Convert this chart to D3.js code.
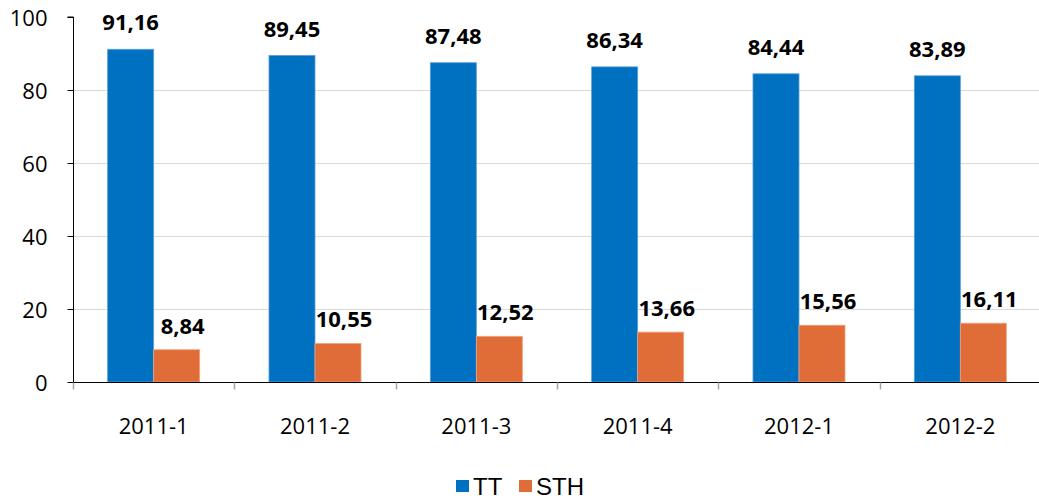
<!DOCTYPE html>
<html>
<head>
<meta charset="utf-8">
<script src="https://cdn.jsdelivr.net/npm/d3@7"></script>
<style>
  body { margin: 0; background: #fff; }
  svg { display: block; }
</style>
</head>
<body>
<svg id="chart"></svg>
<script>
var categories = ["2011-1", "2011-2", "2011-3", "2011-4", "2012-1", "2012-2"];
var series = ["TT", "STH"];
var ttValues = [91.16, 89.45, 87.48, 86.34, 84.44, 83.89];
var sthValues = [8.84, 10.55, 12.52, 13.66, 15.56, 16.11];
var yTicks = [0, 20, 40, 60, 80, 100];

var colors = {TT: "#0070c0", STH: "#e06c37"};
var W = 1039, H = 503;
var margin = {top: 17, right: -2, bottom: 121, left: 73};
var height = H - margin.top - margin.bottom;
var font = "'Open Sans', Lato, sans-serif";

var svg = d3.select("#chart").attr("width", W).attr("height", H);

var data = categories.map(function(c, i) {
  return {cat: c, TT: ttValues[i], STH: sthValues[i]};
});

var x0 = d3.scaleBand().domain(categories).range([margin.left, W - margin.right]).paddingInner(0).paddingOuter(0);
var x1 = d3.scaleBand().domain(series).range([0, x0.bandwidth()]).paddingInner(0).paddingOuter(0.753);
var y = d3.scaleLinear().domain([0, 100]).range([margin.top + height, margin.top]);

// gridlines
svg.append("g")
  .selectAll("line")
  .data(yTicks.filter(function(t) { return t > 0 && t < 100; }))
  .enter().append("line")
    .attr("x1", margin.left)
    .attr("x2", W)
    .attr("y1", function(d) { return y(d) + 0.5; })
    .attr("y2", function(d) { return y(d) + 0.5; })
    .attr("stroke", "#d9d9d9")
    .attr("stroke-width", 1);

// bars
var groups = svg.append("g")
  .selectAll("g")
  .data(data)
  .enter().append("g")
    .attr("transform", function(d) { return "translate(" + x0(d.cat) + ",0)"; });

groups.selectAll("rect")
  .data(function(d) { return series.map(function(s) { return {key: s, value: d[s]}; }); })
  .enter().append("rect")
    .attr("x", function(d) { return x1(d.key); })
    .attr("y", function(d) { return y(d.value); })
    .attr("width", x1.bandwidth())
    .attr("height", function(d) { return y(0) - y(d.value); })
    .attr("fill", function(d) { return colors[d.key]; })
    .attr("stroke", function(d) { return d.key == "TT" ? "#5aa0dc" : "#f0a47e"; })
    .attr("stroke-width", 0.8);

// value labels
var fmt = function(v) { return d3.format(".2f")(v).replace(".", ","); };
groups.selectAll("text")
  .data(function(d) { return series.map(function(s) { return {key: s, value: d[s]}; }); })
  .enter().append("text")
    .attr("x", function(d) { return x1(d.key) + x1.bandwidth() / 2 + (d.key == "STH" ? 6 : 0); })
    .attr("y", function(d) { return y(d.value) - (d.key == "TT" ? 19 : 16); })
    .attr("text-anchor", "middle")
    .attr("font-family", font)
    .attr("font-weight", "bold")
    .attr("font-size", "22px")
    .attr("fill", "#000")
    .text(function(d) { return fmt(d.value); });

// y axis
var yAxis = svg.append("g")
  .attr("transform", "translate(" + (margin.left + 0.5) + ",0)")
  .call(d3.axisLeft(y).tickValues(yTicks).tickSize(6).tickPadding(6));
yAxis.select(".domain").attr("stroke", "#000").attr("d", "M-6," + y(100) + "H0V" + y(0));
yAxis.selectAll(".tick line").attr("stroke", "#000");
yAxis.selectAll(".tick text")
  .attr("font-family", font)
  .attr("font-size", "22px")
  .attr("fill", "#000")
  .attr("x", -26)
  .attr("dy", "0.38em");

// x axis
var xAxis = svg.append("g")
  .attr("transform", "translate(0," + (y(0) + 0.5) + ")");
xAxis.append("line")
  .attr("x1", margin.left)
  .attr("x2", W)
  .attr("stroke", "#000")
  .attr("stroke-width", 1.2);
var edges = categories.map(function(c) { return x0(c); }).concat([x0.range()[1]]);
xAxis.selectAll(".xtick")
  .data(edges)
  .enter().append("line")
    .attr("class", "xtick")
    .attr("x1", function(d) { return Math.round(d) + 0.5; })
    .attr("x2", function(d) { return Math.round(d) + 0.5; })
    .attr("y1", 0)
    .attr("y2", 7)
    .attr("stroke", "#a6a6a6")
    .attr("stroke-width", 1.5);
xAxis.selectAll(".xlabel")
  .data(categories)
  .enter().append("text")
    .attr("class", "xlabel")
    .attr("x", function(d) { return x0(d) + x0.bandwidth() / 2; })
    .attr("y", 51)
    .attr("text-anchor", "middle")
    .attr("font-family", font)
    .attr("font-size", "22px")
    .attr("fill", "#000")
    .text(function(d) { return d; });

// legend
var legendItems = [{key: "TT", sx: 456, tx: 473}, {key: "STH", sx: 519, tx: 536}];
var legend = svg.append("g");
legend.selectAll("rect")
  .data(legendItems)
  .enter().append("rect")
    .attr("x", function(d) { return d.sx; })
    .attr("y", 480)
    .attr("width", 13)
    .attr("height", 12)
    .attr("fill", function(d) { return colors[d.key]; });
legend.selectAll("text")
  .data(legendItems)
  .enter().append("text")
    .attr("x", function(d) { return d.tx; })
    .attr("y", 495)
    .attr("font-family", "'Liberation Sans', Arial, sans-serif")
    .attr("font-size", "24px")
    .attr("fill", "#000")
    .text(function(d) { return d.key; });
</script>
</body>
</html>
